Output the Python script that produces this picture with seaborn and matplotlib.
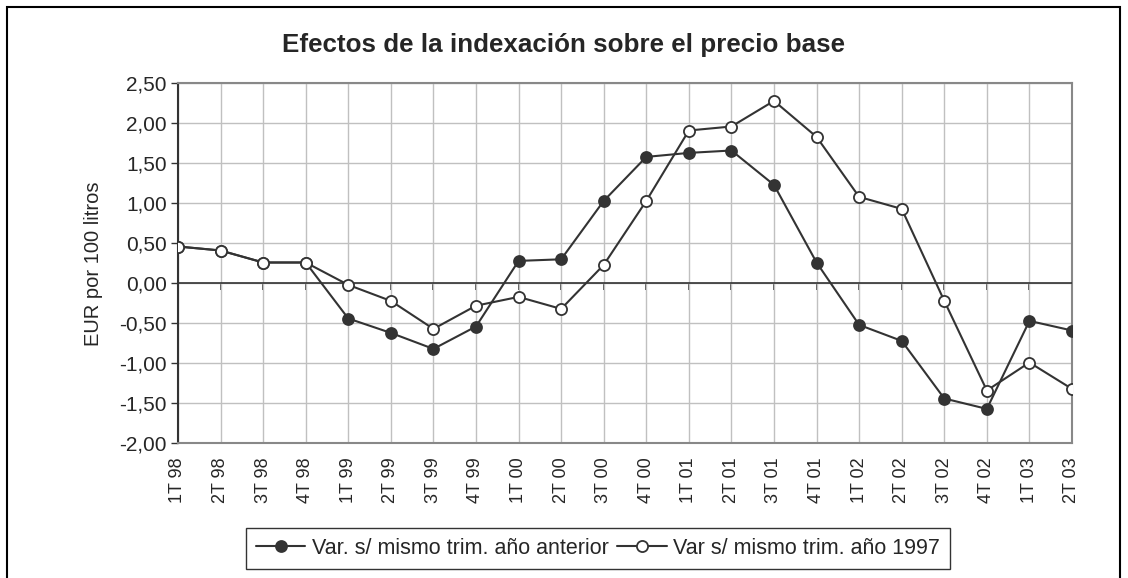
import matplotlib
matplotlib.use("Agg")
import matplotlib.pyplot as plt
import seaborn as sns
import pandas as pd
import numpy as np
from matplotlib.patches import Rectangle
from matplotlib.ticker import FuncFormatter, MultipleLocator

quarters = ["1T 98", "2T 98", "3T 98", "4T 98", "1T 99", "2T 99", "3T 99", "4T 99",
            "1T 00", "2T 00", "3T 00", "4T 00", "1T 01", "2T 01", "3T 01", "4T 01",
            "1T 02", "2T 02", "3T 02", "4T 02", "1T 03", "2T 03"]
var_anterior = [0.46, 0.41, 0.26, 0.26, -0.44, -0.62, -0.82, -0.54, 0.28, 0.30, 1.03, 1.58,
                1.63, 1.66, 1.23, 0.26, -0.52, -0.72, -1.44, -1.57, -0.47, -0.59]
var_1997 = [0.46, 0.41, 0.26, 0.26, -0.02, -0.22, -0.57, -0.28, -0.17, -0.32, 0.23, 1.03,
            1.91, 1.96, 2.28, 1.83, 1.08, 0.93, -0.22, -1.34, -0.99, -1.32]
label_a = "Var. s/ mismo trim. año anterior"
label_b = "Var s/ mismo trim. año 1997"
title = "Efectos de la indexación sobre el precio base"
ylabel = "EUR por 100 litros"

sns.set_style("white")
plt.rcParams["font.family"] = ["Liberation Sans", "DejaVu Sans"]

df = pd.DataFrame({"idx": np.arange(len(quarters)), "a": var_anterior, "b": var_1997})

fig = plt.figure(figsize=(11.28, 5.78), dpi=100)
ax = fig.add_axes([178 / 1128, 1 - 443.3 / 578, (1072 - 178) / 1128, (443.3 - 83.3) / 578])

dark = "#333333"
sns.lineplot(data=df, x="idx", y="a", ax=ax, color=dark, lw=1.5, marker="o",
             markersize=8, markerfacecolor=dark, markeredgecolor=dark,
             markeredgewidth=1.2, label=label_a, zorder=4)
sns.lineplot(data=df, x="idx", y="b", ax=ax, color=dark, lw=1.5, marker="o",
             markersize=8, markerfacecolor="white", markeredgecolor=dark,
             markeredgewidth=1.3, label=label_b, zorder=4)

ax.set_xlim(0, len(quarters) - 1)
ax.set_ylim(-2.0, 2.5)
ax.yaxis.set_major_locator(MultipleLocator(0.5))
ax.yaxis.set_major_formatter(FuncFormatter(lambda v, p: f"{v:.2f}".replace(".", ",")))
ax.set_xticks(df["idx"])
ax.set_xticklabels(quarters, rotation=90, fontsize=13)
ax.tick_params(axis="x", length=0, pad=10)
ax.tick_params(axis="y", length=5, width=1, color=dark, labelsize=15, pad=3, direction="out", left=True)
ax.grid(True, color="#c0c0c0", lw=1)
ax.set_axisbelow(True)
ax.set_xlabel("")
ax.set_ylabel(ylabel, fontsize=14.5, labelpad=12)

for s in ["top", "right", "bottom"]:
    ax.spines[s].set_color("#888888")
    ax.spines[s].set_linewidth(1.5)
ax.spines["left"].set_color(dark)
ax.spines["left"].set_linewidth(1.5)

# zero axis with tick marks
ax.axhline(0, color=dark, lw=1.2, zorder=3)
sec = ax.secondary_xaxis(2.0 / 4.5)
sec.set_xticks(df["idx"])
sec.set_xticklabels([])
sec.tick_params(axis="x", length=5, width=1.2, color=dark, direction="out")
sec.spines["bottom"].set_visible(False)

fig.text(564 / 1128, 1 - 45 / 578, title, ha="center", va="center",
         fontsize=18.7, fontweight="bold")

ax.get_legend().remove()
h, l = ax.get_legend_handles_labels()
leg = fig.legend(h, l, loc="center", bbox_to_anchor=(598 / 1128, 1 - 548.5 / 578),
                 ncol=2, fontsize=15.5, frameon=True, fancybox=False, markerscale=1.0,
                 handlelength=2.3, handletextpad=0.3, columnspacing=0.4,
                 borderpad=0.45, edgecolor="black")
leg.get_frame().set_linewidth(1.0)

fig.patches.append(Rectangle((7 / 1128, -0.02), (1120 - 7) / 1128, 1 - 7 / 578 + 0.02,
                             transform=fig.transFigure, fill=False, edgecolor="black",
                             lw=1.5, zorder=0))

fig.savefig("out.png", dpi=100)
